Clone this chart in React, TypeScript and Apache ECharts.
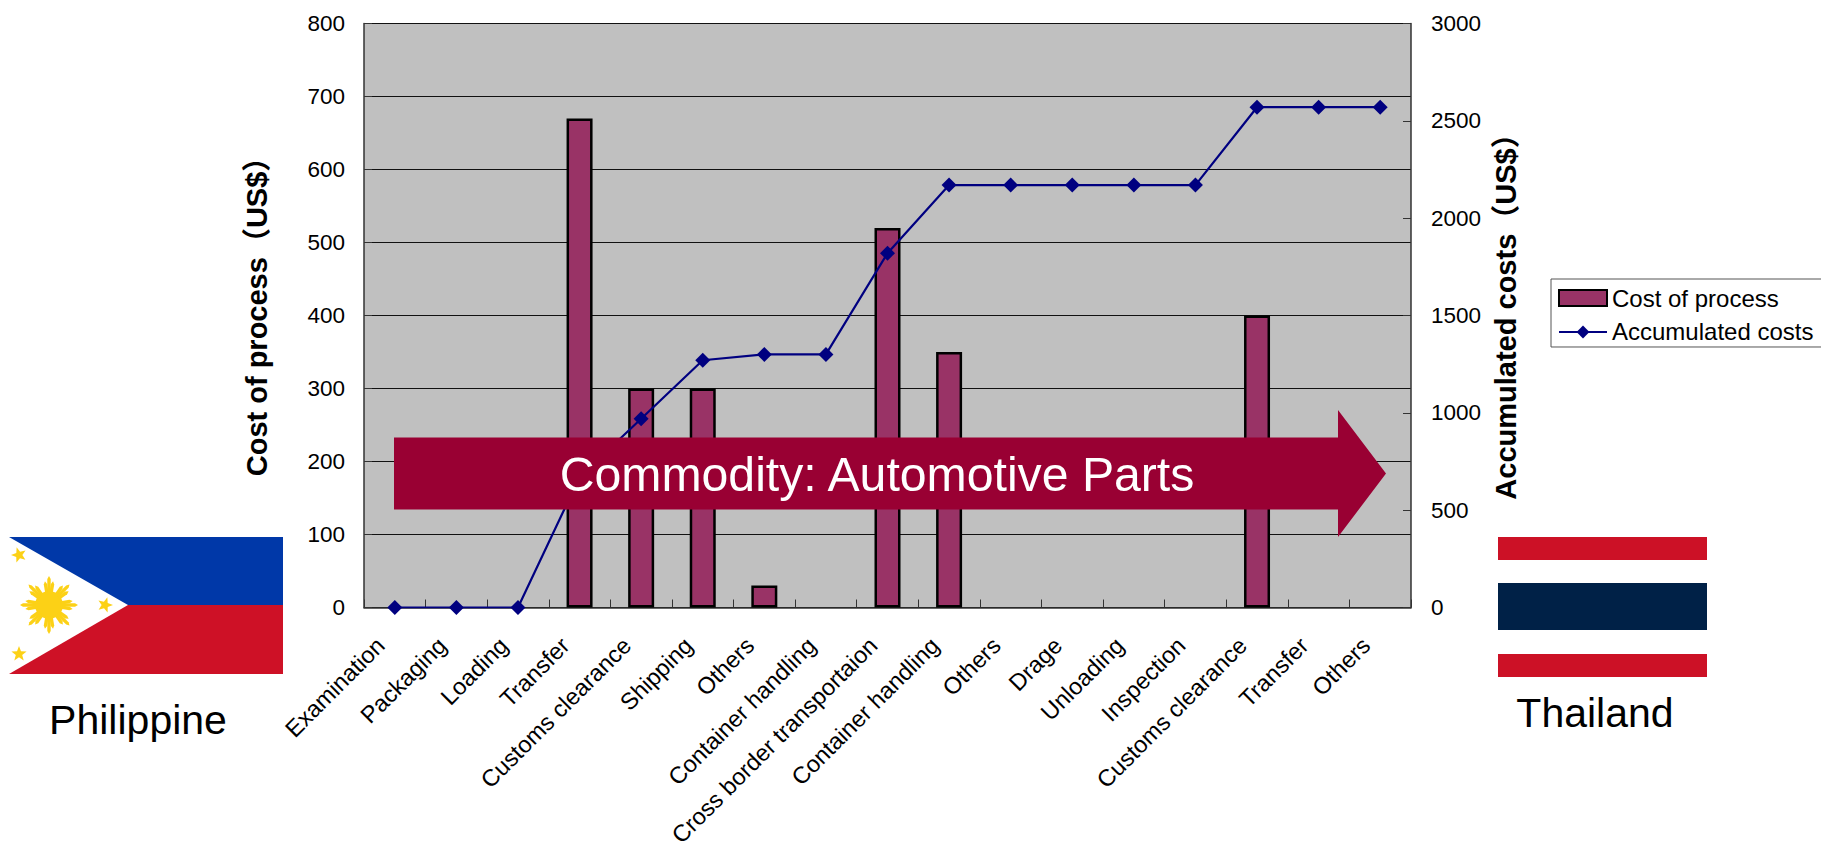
import React, { useEffect, useRef } from "react";
import * as echarts from "echarts";

const categories = ["Examination","Packaging","Loading","Transfer","Customs clearance","Shipping","Others","Container handling","Cross border transportaion","Container handling","Others","Drage","Unloading","Inspection","Customs clearance","Transfer","Others"];
const costOfProcess = [null,null,null,670,300,300,30,null,520,350,null,null,null,null,400,null,null];
const accumulatedCosts = [0,0,0,670,970,1270,1300,1300,1820,2170,2170,2170,2170,2170,2570,2570,2570];

const FONT = '"Liberation Sans", "Noto Sans CJK JP", sans-serif';

function star(cx: number, cy: number, r: number, rot: number) {
  const pts: number[][] = [];
  for (let i = 0; i < 10; i++) {
    const a = rot - Math.PI / 2 + (i * Math.PI) / 5;
    const rr = i % 2 === 0 ? r : r * 0.42;
    pts.push([cx + rr * Math.cos(a), cy + rr * Math.sin(a)]);
  }
  return { type: "polygon", shape: { points: pts }, style: { fill: "#FCD116" }, z: 102 };
}

function sunRays(cx: number, cy: number) {
  const out: any[] = [];
  for (let i = 0; i < 8; i++) {
    const a = (i * Math.PI) / 4;
    for (const off of [-0.17, 0, 0.17]) {
      const t = a + off;
      const len = off === 0 ? 29 : 24;
      const w = 1.7;
      const nx = -Math.sin(t), ny = Math.cos(t);
      const ux = Math.cos(t), uy = Math.sin(t);
      out.push({
        type: "polygon",
        shape: { points: [
          [cx + ux * 12 + nx * w, cy + uy * 12 + ny * w],
          [cx + ux * (len - 3) + nx * w, cy + uy * (len - 3) + ny * w],
          [cx + ux * len, cy + uy * len],
          [cx + ux * (len - 3) - nx * w, cy + uy * (len - 3) - ny * w],
          [cx + ux * 12 - nx * w, cy + uy * 12 - ny * w],
        ] },
        style: { fill: "#FCD116" },
        z: 102,
      });
    }
  }
  return out;
}

export default function App() {
  const ref = useRef<HTMLDivElement>(null);
  useEffect(() => {
    const chart = echarts.init(ref.current!, null, { renderer: "svg" });
    chart.setOption({
      animation: false,
      backgroundColor: "#fff",
      textStyle: { fontFamily: FONT },
      grid: { left: 364, top: 23.5, width: 1047, height: 584, show: true, backgroundColor: "#C0C0C0", borderWidth: 0, outerBoundsMode: "none" },
      legend: {
        left: 1551, top: 279, orient: "vertical", itemWidth: 48, itemHeight: 16, itemGap: 10,
        padding: [7, 30, 3, 7], borderColor: "#555", borderWidth: 1, backgroundColor: "#fff",
        selectedMode: false, textStyle: { fontSize: 24, color: "#000", fontFamily: FONT },
        data: [{ name: "Cost of process", icon: "rect" }, { name: "Accumulated costs" }],
      },
      xAxis: {
        type: "category", data: categories, boundaryGap: true,
        axisLine: { lineStyle: { color: "#333", width: 1.5 } },
        axisTick: { show: true, inside: true, length: 8, lineStyle: { color: "#333" }, interval: 0 },
        axisLabel: { rotate: 45, interval: 0, fontSize: 23.5, color: "#000", margin: 20, padding: [0, 20, 0, 0], fontFamily: FONT },
      },
      yAxis: [
        {
          type: "value", min: 0, max: 800, interval: 100,
          name: "Cost of process（US$）", nameLocation: "middle", nameGap: 93,
          nameTextStyle: { fontSize: 29, fontWeight: "bold", color: "#000", fontFamily: FONT, padding: [0, 0, 0, 12] },
          axisLine: { show: true, lineStyle: { color: "#333", width: 1.5 } },
          axisTick: { show: true, inside: true, length: 8, lineStyle: { color: "#333" } },
          axisLabel: { fontSize: 22.5, color: "#000", margin: 19, fontFamily: FONT },
          splitLine: { show: true, lineStyle: { color: "#111", width: 1 } },
        },
        {
          type: "value", min: 0, max: 3000, interval: 500, position: "right",
          name: "Accumulated costs（US$）", nameLocation: "middle", nameGap: 75,
          nameTextStyle: { fontSize: 29, fontWeight: "bold", color: "#000", fontFamily: FONT, padding: [0, 0, 0, 12] },
          axisLine: { show: true, lineStyle: { color: "#333", width: 1.5 } },
          axisTick: { show: true, inside: true, length: 8, lineStyle: { color: "#333" } },
          axisLabel: { fontSize: 22.5, color: "#000", margin: 20, fontFamily: FONT, formatter: (v: number) => String(v) },
          splitLine: { show: false },
        },
      ],
      series: [
        {
          name: "Cost of process", type: "bar", data: costOfProcess, barWidth: 26,
          itemStyle: { color: "#993366", borderColor: "#000", borderWidth: 2.5 },
        },
        {
          name: "Accumulated costs", type: "line", yAxisIndex: 1, data: accumulatedCosts,
          symbol: "diamond", symbolSize: 15, showAllSymbol: true,
          lineStyle: { color: "#000080", width: 2.2 }, itemStyle: { color: "#000080" },
        },
      ],
      graphic: { elements: [
        { type: "polygon", z: 100, shape: { points: [[394,437.5],[1338,437.5],[1338,410],[1386,473.5],[1338,537],[1338,509.5],[394,509.5]] }, style: { fill: "#990033" } },
        { type: "text", z: 101, x: 877, y: 474, style: { text: "Commodity: Automotive Parts", fill: "#fff", fontSize: 48.2, fontFamily: FONT, align: "center", verticalAlign: "middle" } },
        { type: "rect", z: 101, shape: { x: 9, y: 537, width: 274, height: 68 }, style: { fill: "#0038A8" } },
        { type: "rect", z: 101, shape: { x: 9, y: 605, width: 274, height: 69 }, style: { fill: "#CE1126" } },
        { type: "polygon", z: 101, shape: { points: [[9,537],[128,605],[9,674]] }, style: { fill: "#fff" } },
        { type: "circle", z: 102, shape: { cx: 49, cy: 605, r: 14 }, style: { fill: "#FCD116" } },
        ...sunRays(49, 605),
        star(19, 555, 8, -0.3),
        star(19, 654, 8, 0),
        star(105, 605, 8, 0.3),
        { type: "text", z: 101, x: 138, y: 720, style: { text: "Philippine", fill: "#000", fontSize: 41, fontFamily: FONT, align: "center", verticalAlign: "middle" } },
        { type: "rect", z: 101, shape: { x: 1498, y: 537, width: 209, height: 23 }, style: { fill: "#CC1126" } },
        { type: "rect", z: 101, shape: { x: 1498, y: 583, width: 209, height: 47 }, style: { fill: "#002147" } },
        { type: "rect", z: 101, shape: { x: 1498, y: 654, width: 209, height: 23 }, style: { fill: "#CC1126" } },
        { type: "text", z: 101, x: 1595, y: 713, style: { text: "Thailand", fill: "#000", fontSize: 41, fontFamily: FONT, align: "center", verticalAlign: "middle" } },
      ] },
    });
    return () => chart.dispose();
  }, []);
  return <div ref={ref} style={{ position: "absolute", left: 0, top: 0, width: 1821, height: 847 }} />;
}
